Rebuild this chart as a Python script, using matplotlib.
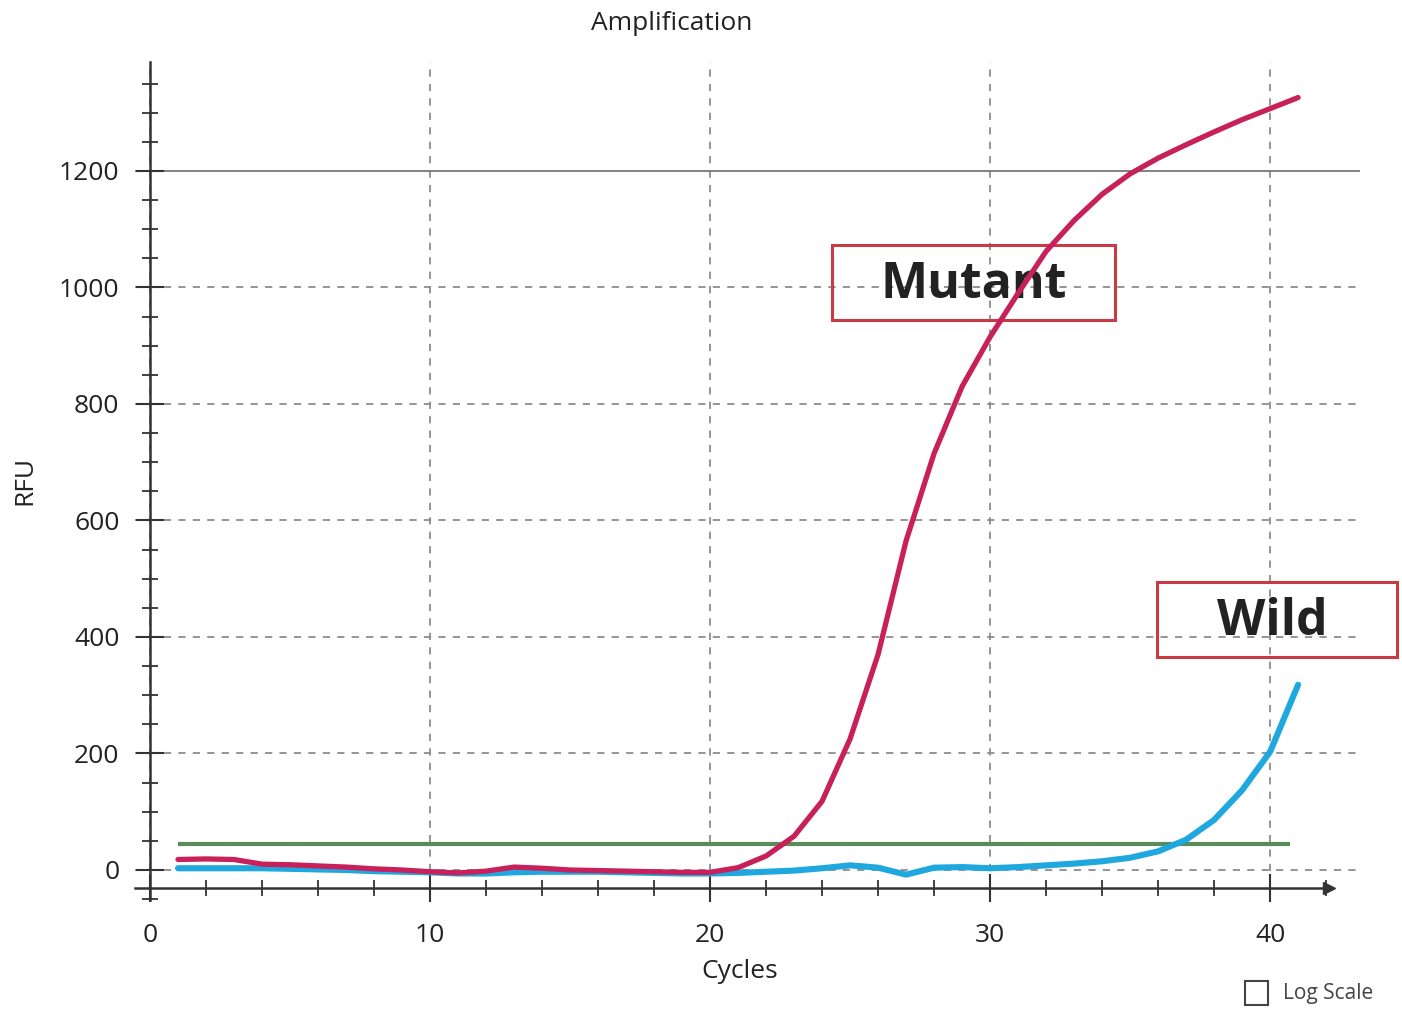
import numpy as np
import matplotlib
matplotlib.use('Agg')
from matplotlib import pyplot as plt
from matplotlib import patches
from matplotlib.ticker import MultipleLocator

plt.rcParams['font.family'] = ['Open Sans', 'DejaVu Sans']

# 数据：每个循环的荧光值 (RFU)
cycles = np.arange(1, 42)
mutant_rfu = [18, 19, 18, 10, 9, 7, 5, 2, 0, -3,
              -5, -2, 5, 3, 0, -1, -2, -3, -4, -4,
              4, 24, 58, 118, 225, 370, 565, 715, 830, 915,
              990, 1062, 1115, 1160, 1195, 1222, 1245, 1267, 1288, 1307,
              1326]
wild_rfu = [3, 3, 3, 3, 2, 1, 0, -2, -3, -4,
            -6, -6, -4, -3, -3, -3, -4, -5, -6, -6,
            -5, -3, -1, 3, 8, 4, -8, 4, 5, 3,
            5, 8, 11, 15, 21, 32, 52, 86, 137, 203,
            318]
threshold = 45
threshold_start, threshold_end = 1, 40.7

x_major = [0, 10, 20, 30, 40]
y_major = [0, 200, 400, 600, 800, 1000, 1200]

W, H = 1402, 1010
fig = plt.figure(figsize=(W / 100, H / 100), dpi=100)
ax = fig.add_axes([135 / W, 110 / H, 1225 / W, 838 / H])
ax.set_xlim(-0.536, 43.21)
ax.set_ylim(-51.5, 1387)

axis_color = '#333333'
for s in ['top', 'right']:
    ax.spines[s].set_visible(False)
ax.spines['left'].set_position(('data', 0))
ax.spines['bottom'].set_position(('data', -31))
ax.spines['bottom'].set_bounds(-0.536, 42.1)
for s in ['left', 'bottom']:
    ax.spines[s].set_color(axis_color)
    ax.spines[s].set_linewidth(1.8)
ax.plot([42.1], [-31], marker='>', ms=9, color=axis_color, clip_on=False)

ax.set_xticks(x_major)
ax.set_yticks(y_major)
ax.xaxis.set_minor_locator(MultipleLocator(2))
ax.yaxis.set_minor_locator(MultipleLocator(50))
ax.tick_params(which='major', direction='inout', length=20, width=1.5,
               colors=axis_color, labelsize=19, labelcolor='#222222')
ax.tick_params(which='minor', direction='inout', length=11, width=1.3,
               colors=axis_color)
ax.tick_params(axis='y', pad=12)
ax.tick_params(axis='x', pad=15)

# 网格：虚线，1200 处为实线
ax.grid(True, which='major', linestyle=(0, (4, 4)), color='#8c8c8c', lw=1.3)
for val, gl in zip(y_major, ax.get_ygridlines()):
    if val == 1200:
        gl.set_linestyle('-')
        gl.set_color('#777777')

ax.hlines(threshold, threshold_start, threshold_end, color='#5a8c5a', lw=3, zorder=3)
ax.plot(cycles, wild_rfu, color='#1ea8df', lw=4.4, zorder=4,
        solid_capstyle='round', solid_joinstyle='round')
ax.plot(cycles, mutant_rfu, color='#c8205a', lw=3.8, zorder=5,
        solid_capstyle='round', solid_joinstyle='round')

# 标注框
box_color = '#c83a44'
ax.text(29.4, 1004, 'Mutant', fontsize=36, fontweight='bold', color='#222222',
        ha='center', va='center', zorder=2)
ax.add_patch(patches.Rectangle((24.36, 944), 10.1, 129, fill=False, ec=box_color,
                               lw=2.2, clip_on=False, zorder=2))
ax.text(40.07, 425, 'Wild', fontsize=36, fontweight='bold', color='#222222',
        ha='center', va='center', zorder=2, clip_on=False)
ax.add_patch(patches.Rectangle((35.96, 366), 8.58, 128, fill=False, ec=box_color,
                               lw=2.2, clip_on=False, zorder=2))

fig.text(672 / W, 1 - 24 / H, 'Amplification', ha='center', va='center',
         fontsize=19, color='#222222')
fig.text(740 / W, 1 - 972 / H, 'Cycles', ha='center', va='center',
         fontsize=19, color='#222222')
fig.text(25 / W, 1 - 480 / H, 'RFU', ha='center', va='center', rotation=90,
         fontsize=19, color='#222222')

fig.patches.append(patches.Rectangle((1245 / W, 5 / H), 23 / W, 24 / H, fill=False,
                                     ec='#444444', lw=1.5, transform=fig.transFigure,
                                     figure=fig))
fig.text(1283 / W, 1 - 993 / H, 'Log Scale', ha='left', va='center',
         fontsize=15, color='#444444')

fig.savefig('out.png', dpi=100)
